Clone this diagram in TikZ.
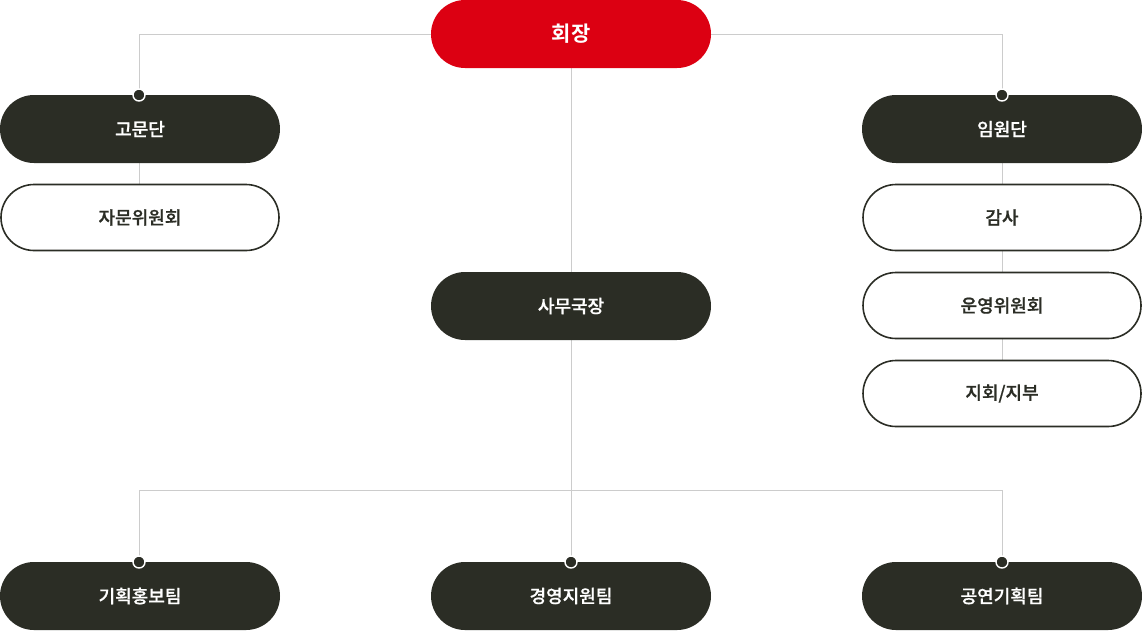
\documentclass[tikz,border=0pt]{standalone}
\usepackage{fontspec}
\newfontfamily\krmed{Noto Sans CJK KR Medium}[FakeBold=0.8]
\newfontfamily\krbold{Noto Sans CJK KR Bold}
\definecolor{boxdark}{HTML}{2B2D25}
\definecolor{boxred}{HTML}{DC0012}
\definecolor{linegray}{HTML}{CCCCCC}
\tikzset{
    pill/.style={rounded rectangle, minimum width=280pt, minimum height=68pt, inner sep=0pt, font=\krmed\fontsize{18pt}{20pt}\selectfont},
    darkpill/.style={pill, fill=boxdark, text=white},
    redpill/.style={pill, fill=boxred, text=white, font=\krbold\fontsize{21pt}{23pt}\selectfont},
    whitepill/.style={pill, draw=boxdark, line width=1.6pt, fill=white, text=boxdark, minimum width=278pt, minimum height=66pt},
    link/.style={draw=linegray, line width=0.8pt},
    knob/.style={circle, fill=boxdark, draw=white, line width=1.4pt, inner sep=0pt, minimum size=12pt}
}
\usetikzlibrary{shapes.misc}
\begin{document}
\begin{tikzpicture}[x=1pt,y=-1pt]
                \useasboundingbox (0,0) rectangle (1142,630);

                % lines first
                \coordinate (L) at (139,34);
                \coordinate (R) at (1002,34);
                \coordinate (BL) at (139,490);
                \coordinate (BM) at (571,490);
                \coordinate (BR) at (1002,490);
                \draw[link] (571,34) -- (L) -- (139,95);
                \draw[link] (571,34) -- (R) -- (1002,95);
                \draw[link] (139,129) -- (139,217);
                \draw[link] (1002,129) -- (1002,393);
                \draw[link] (571,34) -- (571,490);
                \draw[link] (139,562) -- (BL) -- (BR) -- (1002,562);
                \draw[link] (BM) -- (571,562);

                \node [redpill] (chair) at (571,34) {회장};
                \node [darkpill] (advisory) at (140,129) {고문단};
                \node [whitepill] (advcommittee) at (140,217.5) {자문위원회};
                \node [darkpill] (officers) at (1002,129) {임원단};
                \node [whitepill] (audit) at (1002,217.5) {감사};
                \node [whitepill] (steering) at (1002,305.5) {운영위원회};
                \node [whitepill] (branches) at (1002,393.5) {지회/지부};
                \node [darkpill] (secgen) at (571,306) {사무국장};

                \node [darkpill] (planning) at (140,596) {기획홍보팀};
                \node [darkpill] (management) at (571,596) {경영지원팀};
                \node [darkpill] (performance) at (1002,596) {공연기획팀};

                \node [knob] at (139,95) {};
                \node [knob] at (1002,95) {};
                \node [knob] at (139,562) {};
                \node [knob] at (571,562) {};
                \node [knob] at (1002,562) {};
            \end{tikzpicture}
\end{document}
